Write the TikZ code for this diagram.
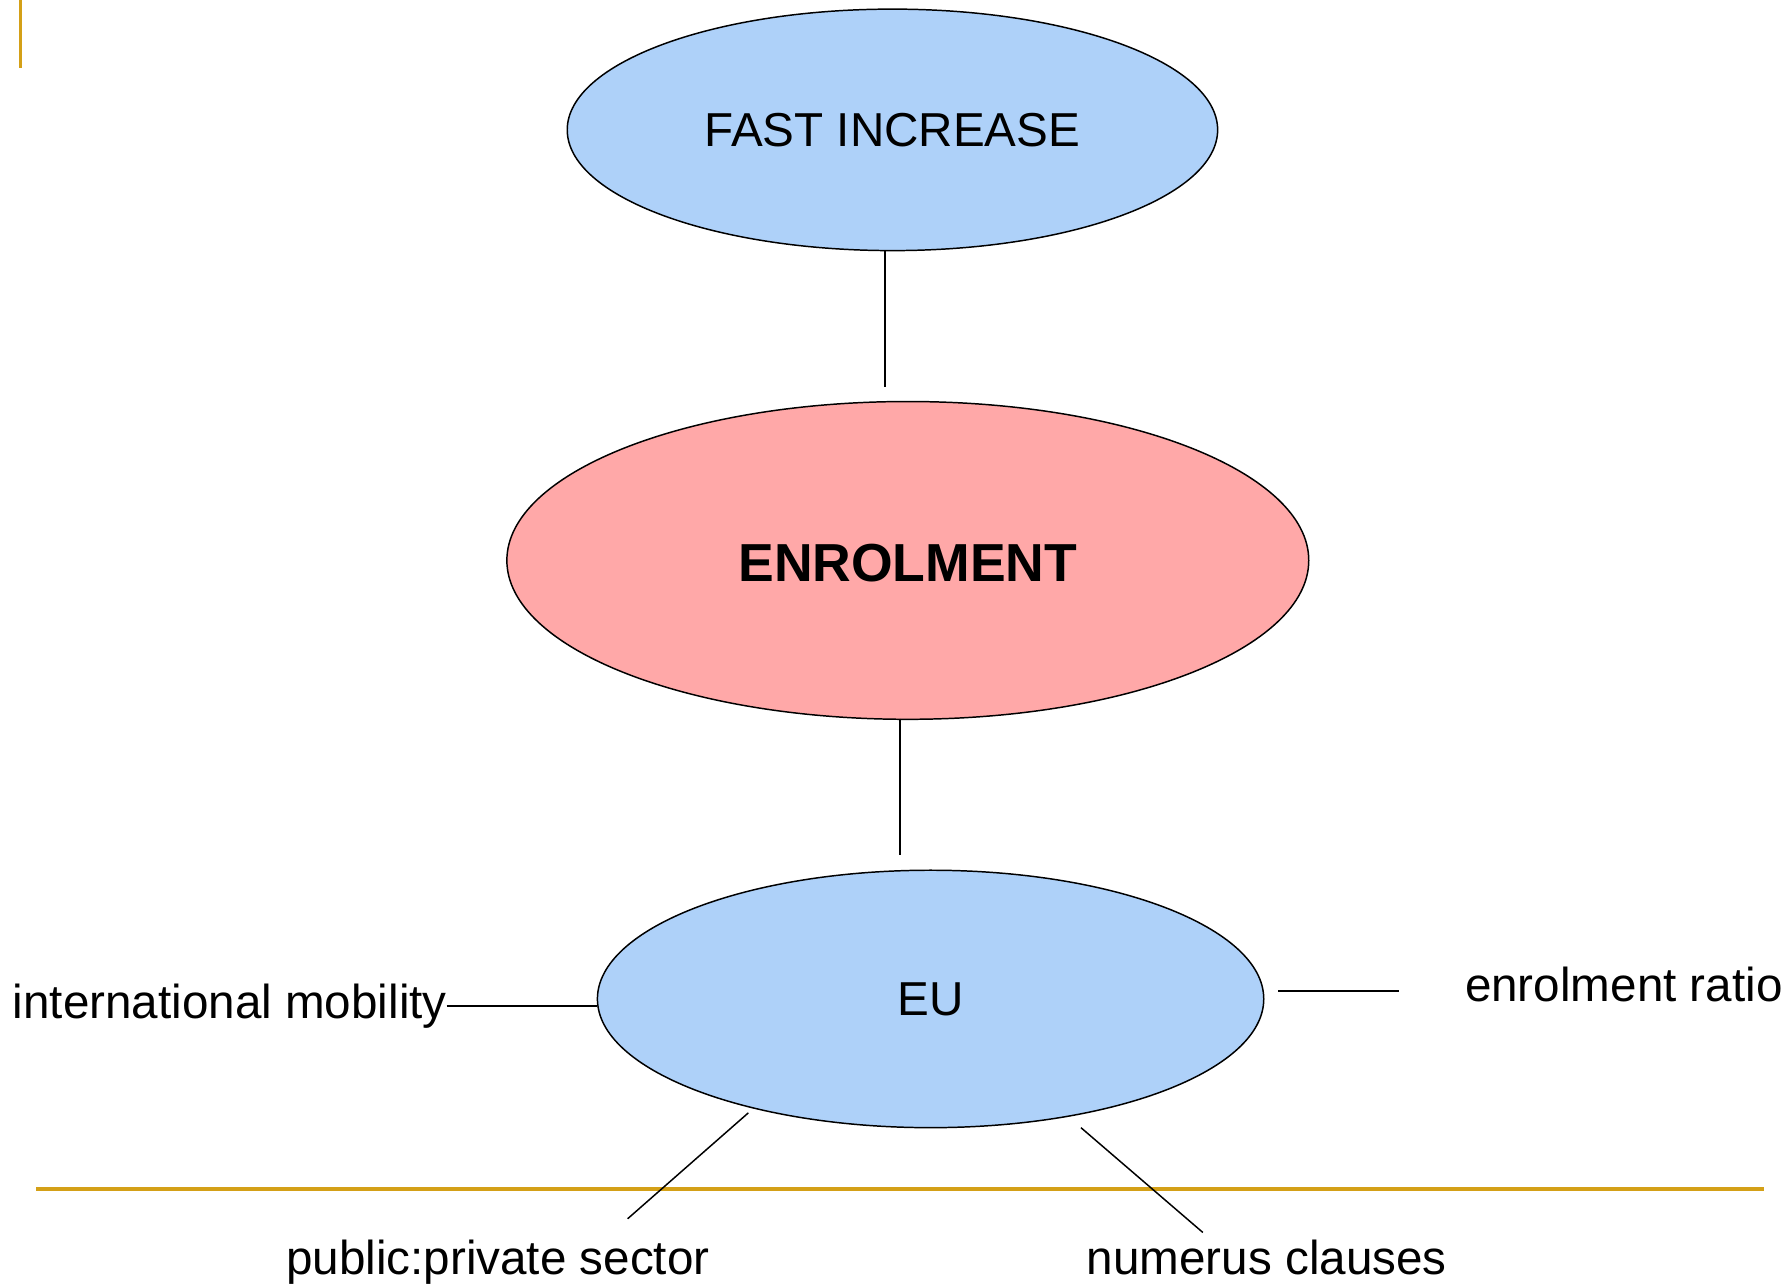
\documentclass[tikz,border=0pt]{standalone}
\usepackage{fontspec}
\setmainfont{Liberation Sans}
\usetikzlibrary{shapes.geometric}
\definecolor{goldline}{RGB}{212,160,23}
\definecolor{lightblue}{RGB}{174,209,249}
\definecolor{lightpink}{RGB}{255,168,168}
\tikzset{
  oval/.style={ellipse, draw=black, line width=1.3pt, inner sep=0pt},
  lbl/.style={inner sep=0pt, anchor=base west, font=\fontsize{41.8pt}{50pt}\selectfont},
  conn/.style={draw=black, line width=1.3pt},
  rule/.style={draw=goldline, line width=3.5pt}
}
\begin{document}
\begin{tikzpicture}[x=1pt,y=-1pt]
\useasboundingbox (0,0) rectangle (1568,1128.2);
% gold rules
\coordinate (vt) at (18,0);
\coordinate (vb) at (18,60);
\draw[rule] (vt) -- (vb);
\coordinate (hl) at (32,1044);
\coordinate (hr) at (1549,1044);
\draw[rule] (hl) -- (hr);
% ellipses
\node[oval, fill=lightblue, minimum width=571pt, minimum height=212pt,
  font=\fontsize{41.8pt}{50pt}\selectfont] (fast) at (783.5,114) {FAST INCREASE};
\node[oval, fill=lightpink, minimum width=704pt, minimum height=279pt,
  font=\fontsize{47pt}{56pt}\selectfont\bfseries] (enrol) at (797,492) {};
\node[inner sep=0pt, font=\fontsize{47pt}{56pt}\selectfont\bfseries] (enroltxt) at (797,494) {ENROLMENT};
\node[oval, fill=lightblue, minimum width=585pt, minimum height=226pt,
  font=\fontsize{41.8pt}{50pt}\selectfont] (eu) at (817,877) {EU};
% labels
\node[lbl] (intl) at (11,894) {international mobility};
\node[lbl] (ratio) at (1286,879) {enrolment ratio};
\node[lbl] (pub) at (251,1119) {public:private sector};
\node[lbl] (num) at (954,1119) {numerus clauses};
% connectors
\coordinate (c1a) at (777,220);
\coordinate (c1b) at (777,340);
\draw[conn] (c1a) -- (c1b);
\coordinate (c2a) at (790,631);
\coordinate (c2b) at (790,751);
\draw[conn] (c2a) -- (c2b);
\coordinate (c3a) at (392,883);
\draw[conn] (c3a) -- (eu.west |- c3a);
\coordinate (c4a) at (1122,870);
\coordinate (c4b) at (1228,870);
\draw[conn] (c4a) -- (c4b);
\coordinate (c5a) at (657,977);
\coordinate (c5b) at (551,1070);
\draw[conn] (c5a) -- (c5b);
\coordinate (c6a) at (949,990);
\coordinate (c6b) at (1056,1082);
\draw[conn] (c6a) -- (c6b);
\end{tikzpicture}
\end{document}
